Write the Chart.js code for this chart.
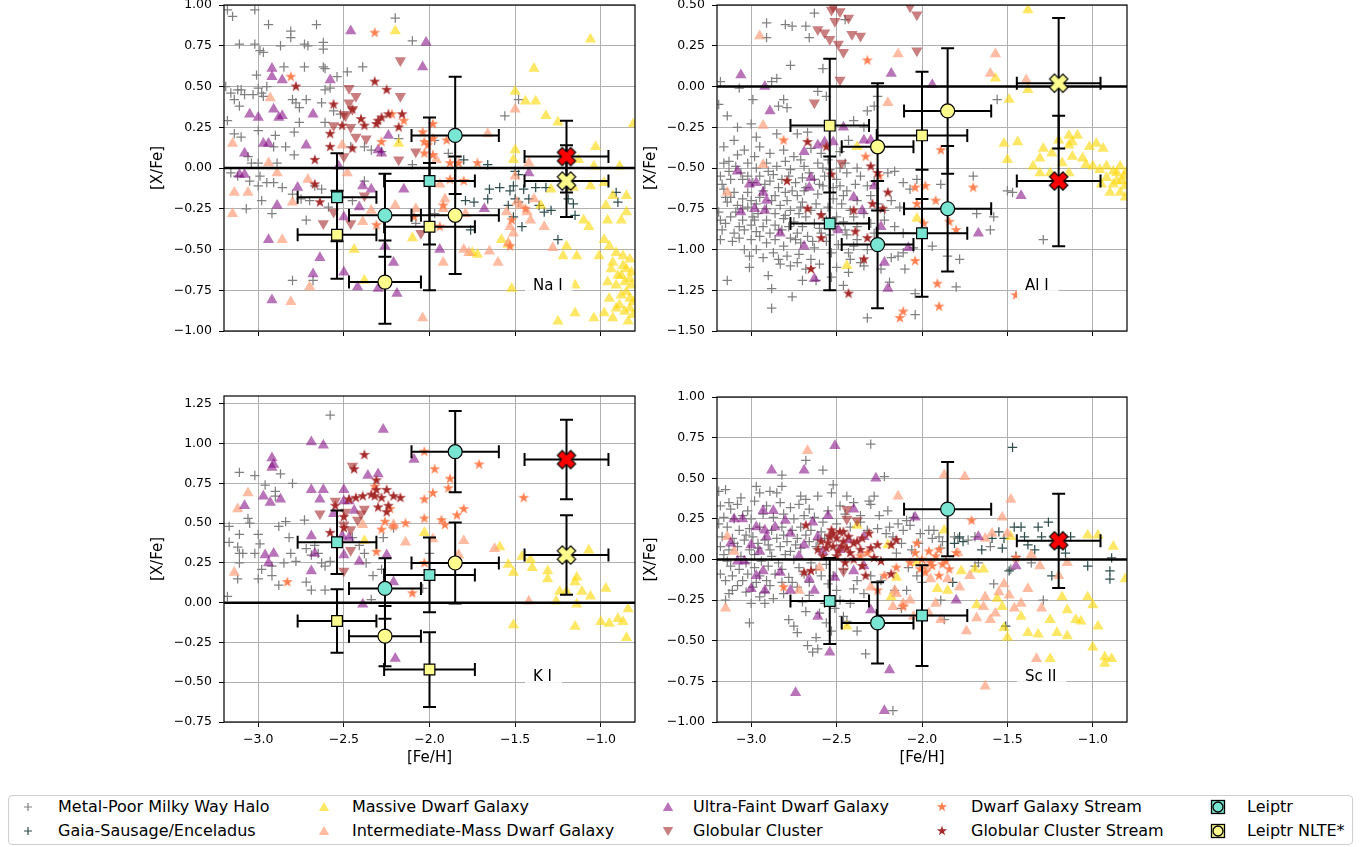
<!DOCTYPE html>
<html>
<head>
<meta charset="utf-8">
<script src="https://cdn.jsdelivr.net/npm/chart.js@4.4.1/dist/chart.umd.min.js"></script>
<style>
  html, body { margin: 0; padding: 0; background: #fff; }
  body { width: 1364px; height: 847px; position: relative; overflow: hidden; font-family: 'DejaVu Sans', sans-serif; }
  canvas.panel { position: absolute; }
  #legend { position: absolute; left: 8px; top: 795px; width: 1345px; height: 50px; border: 1px solid #cfcfcf; border-radius: 4px; box-sizing: border-box; }
  .lg-text { position: absolute; font-size: 16px; line-height: 20px; color: #000; white-space: nowrap; }
  .lg-mark { position: absolute; }
</style>
</head>
<body>
<div id="legend"></div>
<script>
// ── Axis limits and ticks ── //
const feLimits = [-3.2, -0.8];
const feTicks = [-3.0, -2.5, -2.0, -1.5, -1.0];
const naLimits = [-1.0, 1.0];
const naTicks = [-1.0, -0.75, -0.5, -0.25, 0, 0.25, 0.5, 0.75, 1.0];
const alLimits = [-1.5, 0.5];
const alTicks = [-1.5, -1.25, -1.0, -0.75, -0.5, -0.25, 0, 0.25, 0.5];
const kLimits = [-0.75, 1.30];
const kTicks = [-0.75, -0.5, -0.25, 0, 0.25, 0.5, 0.75, 1.0, 1.25];
const scLimits = [-1.0, 1.0];
const scTicks = [-1.0, -0.75, -0.5, -0.25, 0, 0.25, 0.5, 0.75, 1.0];
const solarRef = 0;

// ── Leiptr stars ── //
const leiptrFeH = [-2.54, -2.26, -2.00, -1.85];
const leiptrFeHErr = [0.23, 0.21, 0.265, 0.255];
const leiptrMarker = ['rect', 'circle', 'rect', 'circle'];
const crossFeH = -1.20;
const crossFeHErr = 0.245;

const naLte = [-0.18, -0.29, -0.08, 0.20];
const naNlte = [-0.41, -0.70, -0.36, -0.29];
const naErr = [0.27, 0.255, 0.39, 0.36];
const naCross = [0.07, -0.08];
const naCrossErr = 0.22;

const alLte = [-0.84, -0.97, -0.90, -0.75];
const alNlte = [-0.24, -0.37, -0.30, -0.15];
const alErr = [0.41, 0.39, 0.39, 0.385];
const alCross = [-0.58, 0.02];
const alCrossErr = 0.40;

const kLte = [0.38, 0.09, 0.175, 0.95];
const kNlte = [-0.115, -0.21, -0.42, 0.25];
const kErr = [0.20, 0.19, 0.235, 0.255];
const kCross = [0.90, 0.30];
const kCrossErr = 0.25;

const scLte = [-0.255, -0.39, -0.345, 0.31];
const scNlte = [];
const scErr = [0.265, 0.25, 0.31, 0.29];
const scCross = [0.115];
const scCrossErr = 0.29;

// ── Na I comparison samples ── //
const naHalo = [[-3.18,0.97],[-3.15,0.93],[-3.02,0.97],[-2.94,0.88],[-2.81,0.84],[-2.81,0.80],[-2.66,0.88],[-2.20,0.92],[-2.10,0.78],
[-3.11,0.76],[-3.02,0.76],[-2.99,0.72],[-2.97,0.71],[-2.87,0.75],[-2.73,0.76],[-2.71,0.75],[-2.62,0.77],[-2.62,0.73],
[-2.62,0.62],[-2.61,0.61],[-2.73,0.62],[-2.48,0.59],[-2.39,0.62],[-3.01,0.57],[-3.12,0.48],[-3.16,0.46],[-3.14,0.42],
[-3.10,0.48],[-3.08,0.45],[-2.98,0.46],[-3.00,0.49],[-3.03,0.45],[-3.11,0.38],[-2.97,0.44],[-2.80,0.42],[-2.78,0.40],
[-2.72,0.42],[-2.76,0.37],[-2.61,0.48],[-2.58,0.49],[-2.63,0.40],[-2.54,0.56],[-2.56,0.35],[-2.52,0.33],[-2.76,0.28],
[-2.61,0.28],[-3.18,0.29],[-3.14,0.21],[-3.10,0.19],[-3.00,0.23],[-2.90,0.20],[-2.79,0.22],[-2.84,0.13],[-2.79,0.08],
[-2.91,0.13],[-3.06,0.07],[-3.04,0.03],[-3.00,0.03],[-3.16,-0.03],[-3.12,-0.05],[-2.99,-0.05],[-2.95,-0.09],[-2.91,-0.09],
[-2.89,0.03],[-3.00,-0.11],[-2.98,-0.20],[-3.07,-0.25],[-2.92,-0.28],[-2.72,-0.32],[-2.75,-0.19],[-2.67,-0.11],[-2.63,-0.13],
[-2.38,-0.08],[-2.34,0.11],[-2.28,0.10],[-2.38,0.13],[-2.46,0.13],[-2.18,0.18],[-2.10,0.02],[-2.80,-0.69],[-2.68,-0.69],
[-2.08,-0.34],[-1.97,-0.28],[-1.48,0.42],[-1.56,0.32],[-1.89,0.09],[-1.97,0.17],[-3.19,0.50],[-2.95,0.50],[-2.85,0.62],
[-3.05,-0.08],[-2.86,-0.12],[-2.80,-0.16],[-2.70,-0.20],[-2.59,-0.24],[-2.45,-0.20]];
const naGse = [[-1.80,0.05],[-1.66,0.02],[-1.50,-0.02],[-1.48,-0.04],[-1.51,-0.11],[-1.59,-0.12],[-1.65,-0.13],[-1.53,-0.14],
[-1.45,-0.13],[-1.38,-0.12],[-1.32,-0.12],[-1.42,-0.19],[-1.36,-0.23],[-1.33,-0.27],[-1.29,-0.26],[-1.19,-0.19],[-1.16,-0.22],
[-1.15,-0.29],[-1.66,-0.19],[-1.79,-0.20],[-1.74,-0.21],[-1.50,-0.19],[-1.48,-0.21],[-1.51,-0.30],[-1.46,-0.36],[-1.76,-0.38],
[-1.25,-0.44],[-0.91,-0.15],[-0.90,-0.21],[-1.19,-0.11],[-1.54,-0.23]];
const naMassive = [[-1.06,0.79],[-1.39,0.61],[-1.50,0.47],[-1.44,0.41],[-1.38,0.41],[-1.32,0.32],[-1.25,0.28],[-1.50,0.11],
[-1.51,0.05],[-1.03,0.13],[-0.89,0.01],[-0.81,0.27],[-1.13,0.05],[-1.04,0.01],[-1.06,-0.11],[-1.16,-0.12],[-1.29,-0.13],
[-0.85,-0.17],[-0.97,-0.23],[-1.10,-0.32],[-1.07,-0.36],[-0.96,-0.32],[-0.88,-0.32],[-0.85,-0.27],[-0.98,-0.44],[-0.95,-0.48],
[-0.91,-0.52],[-0.87,-0.54],[-0.83,-0.56],[-0.93,-0.58],[-0.85,-0.62],[-0.88,-0.66],[-0.83,-0.68],[-0.91,-0.72],[-0.85,-0.76],
[-0.95,-0.80],[-0.83,-0.80],[-0.89,-0.84],[-0.83,-0.86],[-0.93,-0.92],[-0.84,-0.94],[-0.98,-0.89],[-1.20,-0.48],[-1.14,-0.54],
[-1.22,-0.54],[-1.01,-0.54],[-1.15,-0.72],[-1.15,-0.89],[-1.04,-0.92],[-1.25,-0.94],[-1.52,-0.74],[-1.58,-0.44],[-1.54,-0.47],
[-1.35,-0.23],[-1.75,-0.52],[-1.72,-0.53],[-0.98,-0.09],[-0.93,-0.17],[-2.20,0.84],[-2.18,0.15],[-2.44,-0.50],[-2.10,-0.43],
[-2.38,-0.69],[-0.87,-0.60],[-0.82,-0.64],[-0.90,-0.66],[-0.86,-0.70],[-0.82,-0.72],[-0.88,-0.78],[-0.81,-0.82],[-0.86,-0.88],
[-0.81,-0.90],[-0.91,-0.86],[-0.96,-0.70],[-0.94,-0.62]];
const naInter = [[-2.93,0.43],[-3.15,0.15],[-3.14,-0.15],[-3.06,-0.15],[-3.15,-0.28],[-2.94,0.03],[-2.89,-0.03],[-2.86,-0.44],
[-2.81,-0.82],[-2.80,-0.21],[-2.71,-0.07],[-2.70,-0.73],[-2.51,0.14],[-2.48,-0.03],[-2.39,-0.33],[-2.34,-0.26],[-2.20,-0.23],
[-2.04,-0.92],[-1.66,0.21],[-1.50,0.36],[-1.42,0.03],[-1.92,-0.58],[-1.80,-0.50],[-1.65,-0.51],[-1.60,-0.58],[-1.54,-0.46],
[-1.51,-0.40],[-1.55,-0.27],[-1.49,-0.21],[-1.47,-0.23],[-1.43,-0.27],[-1.39,-0.19],[-1.33,-0.36],[-1.41,-0.32],[-1.53,-0.36],
[-1.28,-0.49],[-1.91,-0.19],[-1.92,-0.25],[-1.79,-0.28],[-1.77,-0.52],[-1.50,-0.05],[-1.94,-0.10],[-1.96,0.05],[-2.08,-0.25]];
const naUfd = [[-2.46,0.84],[-2.02,0.77],[-2.04,0.62],[-2.92,0.61],[-2.92,0.56],[-2.86,0.54],[-2.58,0.54],[-2.91,0.36],
[-2.88,0.31],[-3.05,0.33],[-3.00,0.31],[-2.68,0.33],[-3.08,0.09],[-2.97,0.15],[-2.94,0.15],[-2.72,0.14],[-3.11,-0.04],
[-3.08,-0.04],[-2.28,0.09],[-2.24,0.20],[-2.30,0.11],[-2.53,0.01],[-2.34,-0.13],[-2.15,-0.13],[-2.39,-0.11],[-2.89,-0.23],
[-2.50,-0.30],[-2.41,-0.24],[-2.94,-0.44],[-2.64,-0.55],[-2.68,-0.65],[-2.50,-0.64],[-2.42,-0.73],[-2.30,-0.74],[-2.19,-0.77],
[-2.92,-0.81],[-2.26,-0.48],[-2.21,-0.58],[-2.77,-0.12],[-2.86,0.32],[-1.94,-0.50],[-1.68,-0.25],[-1.42,-0.03]];
const naGc = [[-2.17,0.66],[-2.17,0.44],[-2.47,0.49],[-2.43,0.44],[-2.47,0.40],[-2.45,0.36],[-2.49,0.32],[-2.56,0.26],
[-2.43,0.19],[-2.37,0.18],[-2.50,0.07],[-2.18,0.05],[-2.08,0.10],[-2.62,-0.34],[-2.56,-0.27],[-2.46,-0.34],[-2.05,-0.40],
[-2.38,-0.17],[-2.50,0.33],[-2.46,0.25]];
const naDgs = [[-2.32,0.83],[-2.81,0.56],[-2.15,0.29],[-2.28,0.16],[-2.04,0.22],[-2.03,0.16],[-2.01,0.14],[-2.03,0.09],
[-1.98,0.18],[-2.09,-0.30],[-2.31,-0.35],[-2.22,0.33],[-1.98,0.27],[-1.98,0.08],[-1.90,0.17],[-1.88,0.03],[-1.83,0.03],
[-1.72,0.03],[-1.80,-0.08],[-1.88,-0.07],[-1.92,-0.23],[-1.44,-0.25],[-1.52,-0.32],[-1.53,-0.48],[-1.94,-0.36]];
const naGcs = [[-2.78,0.50],[-2.32,0.53],[-2.25,0.48],[-2.56,0.39],[-2.45,0.36],[-2.40,0.30],[-2.51,0.26],[-2.38,0.26],
[-2.31,0.27],[-2.28,0.31],[-2.24,0.33],[-2.16,0.33],[-2.18,0.25],[-2.58,0.21],[-2.58,0.13],[-2.45,0.12],[-2.67,0.05],
[-2.67,-0.10],[-2.64,-0.21],[-2.30,0.29]];

// ── Al I comparison samples ── //
const alHalo = [[-2.63,0.45],[-2.91,0.39],[-2.80,0.38],[-2.76,0.37],[-2.68,0.37],[-2.91,0.30],[-2.66,0.30],[-2.45,0.41],
[-2.77,0.13],[-2.58,0.11],[-2.85,0.05],[-2.88,0.03],[-3.18,0.03],[-3.07,-0.01],[-2.61,-0.03],[-2.56,-0.06],[-2.81,-0.08],
[-2.84,-0.12],[-2.79,-0.13],[-2.99,-0.08],[-3.19,-0.11],[-3.14,-0.18],[-3.08,-0.25],[-3.00,-0.23],[-2.97,-0.31],[-2.85,-0.29],
[-2.73,-0.29],[-2.67,-0.28],[-2.40,-0.21],[-2.32,-0.15],[-2.28,-0.12],[-2.26,-0.06],[-2.34,-0.25],[-2.43,-0.33],[-3.10,-0.33],
[-3.16,-0.37],[-3.04,-0.39],[-2.95,-0.37],[-2.89,-0.41],[-2.81,-0.39],[-2.75,-0.43],[-2.65,-0.38],[-2.59,-0.41],[-2.48,-0.40],
[-3.16,-0.47],[-3.09,-0.49],[-3.02,-0.47],[-2.97,-0.50],[-2.91,-0.47],[-2.85,-0.49],[-2.77,-0.51],[-2.69,-0.49],[-2.61,-0.47],
[-2.54,-0.51],[-2.44,-0.53],[-2.36,-0.55],[-2.28,-0.58],[-2.20,-0.53],[-2.16,-0.52],[-2.11,-0.59],[-2.07,-0.63],[-2.03,-0.57],
[-3.18,-0.55],[-3.12,-0.57],[-3.05,-0.57],[-2.99,-0.59],[-2.89,-0.58],[-2.82,-0.57],[-2.74,-0.59],[-2.63,-0.57],[-2.58,-0.61],
[-2.48,-0.61],[-2.39,-0.60],[-2.32,-0.61],[-3.16,-0.63],[-3.10,-0.65],[-3.02,-0.65],[-2.93,-0.64],[-2.86,-0.67],[-2.80,-0.65],
[-2.73,-0.67],[-2.69,-0.64],[-2.61,-0.66],[-2.52,-0.69],[-2.46,-0.67],[-2.38,-0.70],[-2.18,-0.70],[-2.13,-0.74],[-3.14,-0.71],
[-3.08,-0.73],[-3.02,-0.74],[-2.97,-0.72],[-2.91,-0.75],[-2.83,-0.73],[-2.77,-0.76],[-2.71,-0.74],[-2.65,-0.76],[-2.59,-0.78],
[-2.42,-0.76],[-2.34,-0.78],[-3.19,-0.77],[-3.12,-0.80],[-3.05,-0.82],[-2.99,-0.80],[-2.91,-0.82],[-2.81,-0.81],[-2.75,-0.83],
[-2.68,-0.80],[-2.63,-0.84],[-2.46,-0.83],[-2.38,-0.86],[-2.22,-0.82],[-2.16,-0.86],[-3.17,-0.88],[-3.10,-0.90],[-3.04,-0.88],
[-2.97,-0.89],[-2.89,-0.90],[-2.82,-0.88],[-2.73,-0.90],[-2.67,-0.92],[-2.59,-0.90],[-2.44,-0.91],[-2.38,-0.94],[-3.18,-0.94],
[-3.11,-0.95],[-3.00,-0.94],[-2.91,-0.96],[-2.81,-0.98],[-2.71,-0.96],[-2.63,-0.99],[-3.04,-1.00],[-3.01,-1.04],[-2.97,-1.00],
[-2.87,-1.02],[-2.79,-1.04],[-2.72,-1.03],[-2.65,-1.06],[-2.53,-1.02],[-2.43,-1.02],[-2.42,-1.06],[-2.36,-1.08],[-2.83,-1.09],
[-2.77,-1.10],[-2.73,-1.08],[-2.68,-1.12],[-3.01,-1.11],[-2.90,-1.16],[-2.53,-1.17],[-3.14,-1.19],[-2.88,-1.24],[-2.76,-1.29],
[-2.88,-1.36],[-2.46,-1.22],[-2.34,-1.10],[-2.18,-1.05],[-2.14,-1.04],[-2.05,-0.99],[-2.04,-1.27],[-2.32,-1.42],[-2.04,-1.40],
[-2.11,-1.02],[-2.26,-0.97],[-2.28,-0.90],[-2.22,-0.76],[-2.11,-0.90],[-1.70,-0.55],[-1.60,-0.88],[-1.58,-0.80],[-1.68,-0.78],
[-1.78,-1.06],[-1.80,-1.23],[-1.85,-1.04],[-1.56,-0.08],[-1.29,-0.94],[-1.50,-0.64],[-1.47,-0.65],[-1.89,-0.60],[-1.94,-0.98],
[-3.13,-0.52],[-3.06,-0.53],[-2.95,-0.55],[-2.87,-0.54],[-2.78,-0.55],[-2.70,-0.56],[-2.57,-0.55],[-2.50,-0.57],[-3.15,-0.68],
[-3.05,-0.69],[-2.95,-0.68],[-2.88,-0.70],[-2.79,-0.70],[-2.70,-0.71],[-2.62,-0.72],[-2.55,-0.74],[-2.47,-0.72],[-3.09,-0.77],
[-2.96,-0.78],[-2.86,-0.78],[-2.80,-0.79],[-2.72,-0.78],[-2.56,-0.82],[-2.50,-0.80],[-3.15,-0.84],[-3.00,-0.85],[-2.93,-0.86],
[-2.86,-0.85],[-2.78,-0.86],[-2.70,-0.86],[-2.60,-0.87],[-2.52,-0.86],[-3.07,-0.93],[-2.95,-0.92],[-2.86,-0.94],[-2.77,-0.93],
[-2.56,-0.95],[-2.49,-0.97],[-2.40,-0.98],[-2.93,-1.05],[-2.84,-1.06],[-2.60,-1.09],[-2.50,-1.11],[-2.43,-1.14],[-2.62,-1.19],
[-2.70,-1.19],[-3.08,-0.42],[-2.98,-0.43],[-2.71,-0.45],[-2.55,-0.45],[-2.45,-0.47],[-2.38,-0.50],[-2.30,-0.67],[-2.26,-0.72],
[-2.30,-0.84],[-2.32,-1.00],[-2.24,-1.12],[-2.19,-1.20],[-2.10,-1.12],
[-3.17,-0.60],[-3.12,-0.68],[-3.05,-0.75],[-3.00,-0.70],[-2.92,-0.60],[-2.84,-0.62],[-2.76,-0.64],[-2.68,-0.62],[-2.60,-0.60],
[-2.52,-0.62],[-2.44,-0.64],[-3.13,-0.46],[-3.02,-0.55],[-2.90,-0.52],[-2.80,-0.46],[-2.66,-0.53],[-2.58,-0.50],[-2.48,-0.50],
[-3.18,-0.82],[-3.07,-0.86],[-2.98,-0.82],[-2.84,-0.88],[-2.74,-0.94],[-2.64,-0.95],[-2.54,-0.91],[-2.45,-0.88],[-2.40,-0.80]];
const alMassive = [[-1.38,0.47],[-1.57,0.05],[-1.38,-0.02],[-1.49,-0.08],[-1.52,-0.35],[-1.44,-0.34],[-1.50,-0.45],[-1.29,-0.38],
[-1.31,-0.44],[-1.24,-0.41],[-1.20,-0.33],[-1.14,-0.30],[-1.12,-0.34],[-1.09,-0.30],[-1.14,-0.36],[-1.12,-0.43],[-1.06,-0.44],
[-1.02,-0.37],[-0.98,-0.35],[-0.94,-0.38],[-1.04,-0.48],[-1.00,-0.49],[-0.96,-0.51],[-0.92,-0.49],[-0.88,-0.52],[-0.84,-0.49],
[-0.82,-0.55],[-0.86,-0.58],[-0.90,-0.65],[-0.84,-0.65],[-0.81,-0.61],[-1.14,-0.53],[-1.18,-0.47],[-1.25,-0.53],[-1.31,-0.53],
[-1.35,-0.49],[-0.92,-0.56],[-0.95,-0.60],[-0.81,-0.68],[-2.44,-1.10],[-2.03,-0.81],[-2.38,-0.37],[-0.86,-0.53],[-0.83,-0.58],
[-0.88,-0.60],[-0.80,-0.52]];
const alInter = [[-2.95,0.31],[-2.93,-0.24],[-2.93,-0.48],[-3.14,-0.65],[-2.14,0.20],[-2.20,-0.10],[-1.57,0.20],[-1.60,0.08],[-1.39,0.04]];
const alUfd = [[-3.06,0.07],[-2.92,0.00],[-2.89,-0.15],[-2.46,-0.25],[-3.08,-0.52],[-3.01,-0.60],[-2.97,-0.59],[-2.93,-0.65],
[-2.91,-0.70],[-2.98,-0.75],[-3.06,-0.77],[-2.92,-0.76],[-2.69,-0.40],[-2.65,-0.56],[-2.66,-0.62],[-2.61,-0.36],[-2.57,-0.34],
[-2.52,-0.34],[-2.83,-0.90],[-2.69,-0.98],[-2.63,-1.18],[-2.40,-0.68],[-2.35,-0.76],[-2.49,-0.88],[-2.34,-0.33],[-2.30,-0.33],
[-2.28,-0.61],[-2.24,-0.86],[-2.22,-1.08],[-2.20,-1.24],[-2.18,0.08],[-2.08,-0.99],[-1.94,0.01],[-1.67,-0.90],[-1.42,-0.67]];
const alGc = [[-2.53,0.47],[-2.48,0.46],[-2.51,0.40],[-2.43,0.42],[-2.61,0.35],[-2.57,0.33],[-2.54,0.29],[-2.49,0.26],
[-2.46,0.21],[-2.41,0.32],[-2.36,0.31],[-2.03,0.44],[-2.03,0.22],[-2.48,0.04],[-2.63,-0.10],[-2.47,-0.47],[-2.07,0.49],[-2.52,0.49]];
const alDgs = [[-2.32,0.16],[-2.81,-0.33],[-1.89,-0.39],[-2.33,-0.43],[-2.04,-0.62],[-1.98,-0.61],[-2.03,-0.72],[-1.92,-0.70],
[-1.99,-0.84],[-1.84,-0.83],[-1.80,-0.88],[-1.70,-0.62],[-2.04,-1.07],[-1.91,-1.21],[-1.90,-1.35],[-2.11,-1.38],[-2.13,-1.42],
[-1.45,-1.28],[-2.25,-0.55]];
const alGcs = [[-2.56,-0.37],[-2.67,-0.34],[-2.79,-0.58],[-2.53,-0.54],[-2.67,-0.75],[-2.59,-0.79],[-2.30,-0.49],[-2.26,-0.53],
[-2.40,-0.76],[-2.20,-0.65],[-2.23,-0.75],[-2.29,-0.72],[-2.39,-0.89],[-2.32,-0.93],[-2.34,-1.06],[-2.65,-1.12],[-2.43,-1.27],[-2.59,-0.93]];

// ── K I comparison samples ── //
const kHalo = [[-2.58,1.18],[-3.11,0.82],[-3.02,0.80],[-2.96,0.74],[-2.87,0.81],[-2.80,0.75],[-2.90,0.70],[-2.90,0.67],
[-3.06,0.53],[-3.05,0.50],[-3.17,0.48],[-3.11,0.43],[-3.17,0.38],[-3.12,0.35],[-3.11,0.31],[-3.09,0.31],[-3.11,0.25],
[-3.12,0.15],[-3.18,0.04],[-3.00,0.43],[-2.99,0.37],[-3.02,0.31],[-2.98,0.21],[-3.00,0.15],[-2.92,0.23],[-2.92,0.17],
[-2.88,0.11],[-2.88,0.48],[-2.84,0.51],[-2.82,0.41],[-2.81,0.31],[-2.85,0.25],[-2.78,0.26],[-2.73,0.52],[-2.72,0.34],
[-2.67,0.36],[-2.65,0.31],[-2.69,0.30],[-2.72,0.13],[-2.69,0.08],[-2.61,0.08],[-2.63,0.25],[-2.61,0.23],[-2.58,0.26],
[-2.45,0.41],[-2.41,0.36],[-2.38,0.31],[-2.37,0.25],[-2.33,0.17],[-2.28,0.21],[-2.27,0.41],[-2.34,0.02],[-2.21,0.47],
[-2.04,0.09],[-2.00,0.31]];
const kMassive = [[-2.03,0.44],[-2.38,0.39],[-1.59,0.35],[-1.54,0.24],[-1.51,0.19],[-1.46,0.29],[-1.40,0.22],[-1.41,0.27],
[-1.31,0.20],[-1.31,0.15],[-1.26,0.01],[-1.24,0.07],[-1.20,0.07],[-1.14,0.16],[-1.15,0.13],[-1.14,-0.01],[-1.11,0.07],
[-1.06,0.04],[-1.07,0.33],[-0.97,0.09],[-1.00,-0.12],[-0.95,-0.13],[-0.90,-0.10],[-0.87,-0.12],[-0.84,-0.04],[-0.85,-0.22],
[-1.15,-0.15],[-1.51,-0.14]];
const kInter = [[-3.06,0.69],[-3.12,0.59],[-3.14,0.19],[-2.39,0.49],[-2.21,0.49],[-2.14,0.38],[-1.98,0.40],[-1.80,0.39],
[-1.83,0.30],[-1.62,0.34],[-1.42,0.01]];
const kUfd = [[-2.27,1.09],[-2.69,1.01],[-2.62,0.99],[-2.92,0.91],[-2.91,0.87],[-2.92,0.85],[-2.36,0.80],[-2.30,0.81],
[-2.09,0.90],[-2.69,0.71],[-2.62,0.71],[-2.50,0.71],[-2.64,0.65],[-2.97,0.67],[-2.93,0.63],[-2.87,0.65],[-3.08,0.61],
[-2.50,0.64],[-2.47,0.64],[-2.44,0.58],[-2.56,0.56],[-2.51,0.42],[-2.47,0.41],[-2.96,0.30],[-2.91,0.31],[-2.94,0.25],
[-2.69,0.42],[-2.67,0.31],[-2.69,0.20],[-2.50,0.30],[-2.41,0.26],[-2.25,0.30],[-2.21,0.13],[-2.39,-0.01],[-2.20,-0.35]];
const kGc = [[-2.45,0.86],[-2.64,0.56],[-2.55,0.64],[-2.49,0.57],[-2.38,0.59],[-2.42,0.52],[-2.50,0.49],[-2.46,0.33],
[-2.50,0.20],[-2.46,0.46],[-2.40,0.56]];
const kDgs = [[-2.03,0.95],[-1.97,0.84],[-1.71,0.87],[-1.88,0.78],[-1.89,0.72],[-1.98,0.69],[-2.03,0.65],[-1.80,0.59],
[-1.84,0.55],[-2.03,0.53],[-1.93,0.52],[-1.91,0.49],[-2.14,0.50],[-2.21,0.48],[-2.26,0.51],[-2.23,0.59],[-2.28,0.46],
[-2.32,0.73],[-2.31,0.32],[-2.03,0.25],[-2.10,0.06],[-2.83,0.13],[-1.45,0.66]];
const kGcs = [[-2.38,0.93],[-2.44,0.84],[-2.31,0.77],[-2.25,0.71],[-2.31,0.71],[-2.32,0.67],[-2.21,0.67],[-2.17,0.66],
[-2.39,0.67],[-2.43,0.66],[-2.47,0.65],[-2.30,0.60],[-2.25,0.57],[-2.24,0.61],[-2.55,0.61],[-2.50,0.54],[-2.50,0.47],
[-2.58,0.44],[-2.34,0.68],[-2.28,0.66]];

// ── Sc II comparison samples ── //
const scHalo = [[-2.30,0.71],[-2.68,0.61],[-2.58,0.55],[-2.82,0.52],[-2.82,0.45],[-3.15,0.43],[-3.19,0.42],[-2.97,0.45],
[-2.95,0.41],[-2.89,0.42],[-2.85,0.41],[-2.71,0.39],[-2.68,0.37],[-2.61,0.39],[-2.52,0.46],[-2.53,0.41],[-2.44,0.39],
[-2.28,0.39],[-2.31,0.36],[-2.22,0.51],[-2.30,0.34],[-2.19,0.20],[-2.14,0.22],[-2.05,0.26],[-2.09,0.24],
[-3.18,0.33],[-3.12,0.31],[-3.08,0.34],[-3.02,0.30],[-3.16,0.26],[-3.10,0.25],[-3.05,0.27],[-3.00,0.25],[-2.93,0.28],
[-2.87,0.26],[-2.81,0.28],[-2.75,0.25],[-2.69,0.27],[-2.63,0.26],[-2.58,0.23],[-3.14,0.20],[-3.07,0.18],[-3.01,0.19],
[-2.95,0.20],[-2.88,0.18],[-2.82,0.20],[-2.76,0.18],[-2.71,0.20],[-2.65,0.18],[-2.59,0.17],[-3.17,0.14],[-3.11,0.13],
[-3.04,0.12],[-2.99,0.14],[-2.92,0.12],[-2.85,0.13],[-2.79,0.11],[-2.73,0.13],[-2.66,0.11],[-2.61,0.12],[-3.18,0.08],
[-3.13,0.06],[-3.08,0.08],[-3.01,0.06],[-2.96,0.07],[-2.89,0.06],[-2.83,0.08],[-2.77,0.05],[-2.71,0.07],[-3.16,0.03],
[-3.06,0.02],[-2.98,0.03],[-2.88,0.02],[-2.80,0.03],[-3.14,-0.01],[-3.03,-0.02],[-2.94,-0.01],[-2.84,-0.02],[-2.75,0.00],
[-2.65,-0.02],[-3.18,-0.09],[-3.11,-0.10],[-3.02,-0.09],[-2.95,-0.10],[-2.86,-0.09],[-2.78,-0.11],[-2.69,-0.09],[-2.59,-0.10],
[-3.08,-0.16],[-2.99,-0.17],[-2.89,-0.16],[-2.73,-0.17],[-3.11,-0.19],[-3.03,-0.20],[-2.95,-0.23],[-2.87,-0.24],[-3.00,-0.27],
[-3.15,-0.25],[-3.01,-0.39],[-2.92,-0.27],[-2.78,-0.37],[-2.75,-0.41],[-2.73,-0.45],[-2.68,-0.32],[-2.62,-0.48],[-2.67,-0.53],
[-2.64,-0.57],[-2.61,-0.55],[-2.52,-0.10],[-2.46,-0.06],[-2.50,-0.19],[-2.42,-0.27],[-2.34,-0.21],[-2.38,-0.13],[-2.33,-0.58],
[-2.17,-0.93],[-2.50,0.22],[-2.42,0.20],[-2.36,0.23],[-2.32,0.18],[-2.26,0.19],[-2.21,0.16],[-2.17,0.14],[-2.11,0.18],
[-2.07,0.21],[-2.01,0.16],[-2.30,-0.10],[-2.24,-0.13],[-2.16,-0.19],[-2.09,-0.19],[-2.03,-0.10],[-2.51,-0.30],[-2.46,-0.35],
[-2.53,-0.44],[-1.94,0.13],[-1.90,0.14],[-1.88,0.11],[-1.79,0.13],[-1.73,0.12],[-1.89,0.07],[-1.67,-0.02],[-1.69,-0.04],
[-1.58,-0.15],[-1.48,-0.06],[-1.29,-0.25],[-1.89,-0.25],[-1.87,-0.37],[-1.93,0.18],[-1.96,0.18],[-1.81,0.14],[-1.69,0.14],
[-1.60,0.08],[-1.36,-0.02],
[-3.19,0.22],[-3.13,0.35],[-3.06,0.38],[-2.98,0.36],[-2.91,0.33],[-2.83,0.35],[-2.77,0.32],[-2.72,0.34],[-2.66,0.31],
[-2.55,0.30],[-2.48,0.33],[-3.10,0.10],[-3.03,0.15],[-2.96,0.10],[-2.90,0.09],[-2.81,0.15],[-2.74,0.09],[-2.68,0.15],
[-2.62,0.08],[-2.57,0.13],[-3.12,-0.04],[-3.07,-0.06],[-2.98,-0.05],[-2.90,-0.04],[-2.82,-0.06],[-2.72,-0.05],[-2.62,-0.06],
[-2.56,-0.03],[-3.15,-0.13],[-3.05,-0.13],[-2.97,-0.14],[-2.91,-0.13],[-2.82,-0.14],[-2.76,-0.14],[-2.66,-0.14],[-2.55,-0.15],
[-3.13,-0.21],[-2.92,-0.20],[-2.81,-0.21],[-2.66,-0.22],[-2.57,-0.27],[-2.48,-0.25],[-2.40,-0.18],[-2.44,-0.38],[-2.38,-0.44],
[-2.70,-0.26],[-2.60,-0.33],[-2.56,-0.39],[-2.36,0.27],[-2.40,0.35],[-2.45,0.28],[-2.25,0.27],[-2.20,0.30],[-2.12,0.10],
[-2.06,0.06],[-2.02,0.10],[-2.15,0.04],[-2.08,-0.05],[-2.00,-0.14],[-2.12,-0.30]];
const scGse = [[-1.47,0.69],[-1.46,0.20],[-1.40,0.14],[-1.32,0.20],[-1.26,0.23],[-1.30,0.14],[-1.38,0.09],[-1.34,0.06],
[-1.52,0.13],[-1.53,0.07],[-1.59,0.13],[-1.65,0.06],[-1.76,0.11],[-1.78,0.14],[-1.81,0.10],[-1.20,0.07],[-1.16,0.04],
[-1.24,-0.10],[-1.49,-0.07],[-1.45,0.02],[-1.03,-0.04],[-0.90,-0.07],[-0.89,0.01],[-0.90,-0.12],[-1.51,-0.41],[-1.82,-0.14],
[-1.55,0.17],[-1.42,0.20],[-1.13,0.14]];
const scMassive = [[-2.38,0.21],[-2.44,-0.41],[-2.20,0.09],[-2.15,-0.11],[-2.18,-0.23],[-2.03,-0.02],[-1.87,0.18],[-1.91,-0.18],
[-1.85,-0.19],[-1.77,-0.07],[-1.69,-0.06],[-1.64,-0.06],[-1.68,-0.28],[-1.56,-0.24],[-1.53,-0.29],[-1.52,-0.42],[-1.50,-0.48],
[-1.42,-0.35],[-1.38,-0.45],[-1.32,-0.46],[-1.25,-0.37],[-1.21,-0.45],[-1.18,-0.23],[-1.15,-0.31],[-1.10,-0.37],[-1.07,-0.38],
[-1.03,-0.23],[-1.00,-0.28],[-0.97,-0.41],[-1.00,-0.54],[-0.93,-0.60],[-0.89,-0.61],[-0.93,-0.64],[-1.25,-0.61],[-1.03,0.15],
[-0.97,0.15],[-0.88,0.08],[-0.81,-0.12],[-1.15,-0.47],[-1.48,0.14]];
const scInter = [[-2.67,0.67],[-3.15,-0.30],[-2.14,0.39],[-3.14,0.14],[-2.16,-0.19],[-2.15,-0.21],[-2.07,-0.25],[-2.17,-0.29],
[-2.11,-0.27],[-1.87,0.52],[-1.75,0.51],[-1.48,0.37],[-1.53,0.26],[-1.79,0.04],[-1.95,-0.12],[-1.92,-0.27],[-1.89,-0.37],
[-1.74,-0.44],[-1.63,-0.78],[-1.78,-0.17],[-1.63,-0.23],[-1.64,-0.29],[-1.60,-0.37],[-1.55,-0.20],[-1.49,-0.22],[-1.42,-0.27],
[-1.33,-0.61],[-1.63,0.13],[-1.59,0.16],[-1.50,0.16],[-1.31,-0.04],[-1.36,0.03],[-2.72,-0.19],[-3.10,0.05],[-2.60,-0.05],
[-1.98,-0.05],[-1.85,-0.12],[-1.72,-0.10],[-1.68,-0.36],[-1.57,-0.33],[-1.52,-0.15],[-1.46,-0.30],[-1.38,-0.18],[-1.30,-0.30],
[-1.20,-0.10],[-1.15,-0.02],[-2.30,-0.17],[-2.05,-0.35],[-1.96,-0.33]];
const scUfd = [[-2.51,0.70],[-2.88,0.55],[-2.69,0.55],[-2.27,0.50],[-2.93,0.30],[-2.87,0.30],[-3.05,0.25],[-3.10,0.25],
[-2.97,0.20],[-2.92,0.18],[-2.91,0.14],[-2.77,0.16],[-2.64,0.23],[-2.61,0.14],[-2.69,0.09],[-2.40,0.31],[-2.34,0.14],
[-3.08,-0.01],[-3.04,-0.01],[-2.93,-0.07],[-2.83,-0.08],[-3.00,-0.18],[-2.92,-0.19],[-2.77,-0.19],[-2.63,-0.19],[-2.51,-0.11],
[-2.30,-0.31],[-2.61,-0.35],[-2.54,-0.57],[-2.19,-0.68],[-2.74,-0.82],[-2.22,-0.93],[-2.04,0.26],[-2.34,-0.04],[-2.40,-0.07],
[-1.67,0.14],[-1.45,-0.04],[-1.80,-0.25],[-3.00,0.09],[-2.95,0.05],[-2.86,0.20],[-2.80,0.24],[-2.72,0.02],[-2.58,0.05],
[-2.55,0.27],[-2.48,0.06],[-2.43,0.12],[-3.12,0.10],[-2.97,-0.10],[-2.66,-0.12]];
const scGc = [[-2.44,0.31],[-2.38,0.24],[-2.44,0.25],[-2.46,-0.07],[-2.54,0.14]];
const scDgs = [[-2.81,-0.17],[-2.36,0.02],[-2.32,0.04],[-2.22,-0.10],[-2.26,-0.19],[-2.03,0.10],[-2.04,0.04],[-2.01,-0.06],
[-2.11,-0.29],[-1.71,0.24],[-1.96,0.05],[-1.92,0.02],[-1.88,-0.03],[-1.84,-0.06],[-1.80,0.04],[-1.94,-0.04],[-1.45,0.01],
[-1.98,-0.08],[-1.90,-0.10],[-2.00,0.00],[-1.95,-0.02],[-1.90,0.06],[-1.86,-0.01],[-2.07,-0.02],[-2.15,-0.05]];
const scGcs = [[-2.68,0.21],[-2.54,0.14],[-2.50,0.13],[-2.46,0.11],[-2.47,0.08],[-2.52,0.08],[-2.43,0.14],[-2.40,0.10],
[-2.56,0.07],[-2.61,0.06],[-2.58,0.02],[-2.50,0.02],[-2.42,0.04],[-2.36,0.06],[-2.31,0.16],[-2.26,0.09],[-2.40,0.00],
[-2.28,0.01],[-2.24,-0.01],[-2.33,-0.10],[-2.65,-0.07],[-2.69,-0.08],[-2.18,-0.09],[-2.15,0.12],[-2.18,0.09],[-2.53,0.18],
[-2.48,0.17],[-2.59,0.11],[-2.55,0.10],[-2.49,0.05],[-2.44,0.07],[-2.38,0.11],[-2.52,0.16],[-2.46,0.17],[-2.35,0.13],
[-2.30,0.07],[-2.45,-0.02],[-2.35,-0.04]];

// ── Styling ── //
const FONT = "'DejaVu Sans', sans-serif";
const LTE_FILL = '#78e6d2';
const NLTE_FILL = '#fdfc8c';

const CATS = [
  { key: 'halo', label: 'Metal-Poor Milky Way Halo', kind: 'plus', color: '#808080' },
  { key: 'gse', label: 'Gaia-Sausage/Enceladus', kind: 'plus', color: '#2f4f4f' },
  { key: 'massive', label: 'Massive Dwarf Galaxy', kind: 'tri', color: 'rgba(255,215,0,0.6)' },
  { key: 'inter', label: 'Intermediate-Mass Dwarf Galaxy', kind: 'tri', color: 'rgba(255,160,122,0.7)' },
  { key: 'ufd', label: 'Ultra-Faint Dwarf Galaxy', kind: 'tri', color: 'rgba(128,0,128,0.55)' },
  { key: 'gc', label: 'Globular Cluster', kind: 'tridown', color: 'rgba(165,42,42,0.6)' },
  { key: 'dgs', label: 'Dwarf Galaxy Stream', kind: 'star', color: '#ff7f50' },
  { key: 'gcs', label: 'Globular Cluster Stream', kind: 'star', color: '#a52a2a' },
];

// ── Marker shapes ── //
function starPath(ctx, cx, cy, R) {
  const r = R * 0.382;
  ctx.beginPath();
  for (let i = 0; i < 10; i++) {
    const rad = i % 2 ? r : R;
    const a = -Math.PI / 2 + i * Math.PI / 5;
    ctx.lineTo(cx + rad * Math.cos(a), cy + rad * Math.sin(a));
  }
  ctx.closePath();
}
function triPath(ctx, cx, cy, r, down) {
  const s = down ? -1 : 1;
  ctx.beginPath();
  for (let i = 0; i < 3; i++) {
    const a = -Math.PI / 2 + i * 2 * Math.PI / 3;
    ctx.lineTo(cx + r * Math.cos(a), cy + s * r * Math.sin(a));
  }
  ctx.closePath();
}
function xPath(ctx, cx, cy, h, w) {
  const pts = [[w,-h],[w,-w],[h,-w],[h,w],[w,w],[w,h],[-w,h],[-w,w],[-h,w],[-h,-w],[-w,-w],[-w,-h]];
  const c = Math.SQRT1_2;
  ctx.beginPath();
  pts.forEach(([px, py]) => ctx.lineTo(cx + (px - py) * c, cy + (px + py) * c));
  ctx.closePath();
}
function makeStarImg(color, R) {
  const c = document.createElement('canvas');
  const s = Math.ceil(2 * R + 2);
  c.width = c.height = s;
  const g = c.getContext('2d');
  starPath(g, s / 2, s / 2, R);
  g.fillStyle = color;
  g.fill();
  return c;
}
function makeXImg(fill) {
  const c = document.createElement('canvas');
  c.width = c.height = 24;
  const g = c.getContext('2d');
  xPath(g, 12, 12, 9.4, 3.5);
  g.fillStyle = fill;
  g.fill();
  g.lineWidth = 1.2;
  g.strokeStyle = '#000';
  g.stroke();
  return c;
}

const fmt = (v, d) => (v < 0 ? '\u2212' : '') + Math.abs(v).toFixed(d);
const toXY = p => ({ x: p[0], y: p[1] });

// ── Per-panel decorations: error bars, label box, frame ── //
const panelDeco = {
  id: 'panelDeco',
  afterDatasetDraw(chart, args) {
    const ds = chart.data.datasets[args.index];
    if (!ds.isZero) return;
    const o = chart.options.plugins.panelDeco;
    const xs = chart.scales.x, ys = chart.scales.y, ctx = chart.ctx;
    const cap = 6.5;
    ctx.save();
    ctx.strokeStyle = '#000';
    ctx.lineWidth = 2;
    o.bars.forEach(b => {
      const px = xs.getPixelForValue(b.x), py = ys.getPixelForValue(b.y);
      const x0 = xs.getPixelForValue(b.x - b.xe), x1 = xs.getPixelForValue(b.x + b.xe);
      const y0 = ys.getPixelForValue(b.y - b.ye), y1 = ys.getPixelForValue(b.y + b.ye);
      ctx.beginPath();
      ctx.moveTo(x0, py); ctx.lineTo(x1, py);
      ctx.moveTo(px, y0); ctx.lineTo(px, y1);
      ctx.moveTo(x0, py - cap); ctx.lineTo(x0, py + cap);
      ctx.moveTo(x1, py - cap); ctx.lineTo(x1, py + cap);
      ctx.moveTo(px - cap, y0); ctx.lineTo(px + cap, y0);
      ctx.moveTo(px - cap, y1); ctx.lineTo(px + cap, y1);
      ctx.stroke();
    });
    ctx.restore();
  },
  afterDatasetsDraw(chart) {
    const o = chart.options.plugins.panelDeco;
    const a = chart.chartArea, ctx = chart.ctx;
    ctx.save();
    ctx.font = '15px ' + FONT;
    const tx = a.right - 102, ty = a.bottom - 46;
    const w = ctx.measureText(o.label).width;
    ctx.fillStyle = 'rgba(255,255,255,0.85)';
    ctx.fillRect(tx - 8, ty - 14, w + 18, 28);
    ctx.fillStyle = '#000';
    ctx.textBaseline = 'middle';
    ctx.fillText(o.label, tx, ty + 1);
    ctx.strokeStyle = '#000';
    ctx.lineWidth = 1.2;
    ctx.strokeRect(a.left, a.top, a.right - a.left, a.bottom - a.top);
    ctx.restore();
  }
};

// ── Panels ── //
const PANELS = [
  { id: 'cNa', left: 134, top: 0, width: 506, height: 345, padTop: 5, xh: 14, showX: false, label: 'Na I',
    yLim: naLimits, yTicks: naTicks, lte: naLte, nlte: naNlte, err: naErr, cross: naCross, crossErr: naCrossErr,
    cats: { halo: naHalo, gse: naGse, massive: naMassive, inter: naInter, ufd: naUfd, gc: naGc, dgs: naDgs, gcs: naGcs } },
  { id: 'cAl', left: 627, top: 0, width: 505, height: 345, padTop: 5, xh: 14, showX: false, label: 'Al I',
    yLim: alLimits, yTicks: alTicks, lte: alLte, nlte: alNlte, err: alErr, cross: alCross, crossErr: alCrossErr,
    cats: { halo: alHalo, massive: alMassive, inter: alInter, ufd: alUfd, gc: alGc, dgs: alDgs, gcs: alGcs } },
  { id: 'cK', left: 134, top: 380, width: 506, height: 390, padTop: 16, xh: 48, showX: true, label: 'K I',
    yLim: kLimits, yTicks: kTicks, lte: kLte, nlte: kNlte, err: kErr, cross: kCross, crossErr: kCrossErr,
    cats: { halo: kHalo, massive: kMassive, inter: kInter, ufd: kUfd, gc: kGc, dgs: kDgs, gcs: kGcs } },
  { id: 'cSc', left: 627, top: 380, width: 505, height: 390, padTop: 17, xh: 48, showX: true, label: 'Sc II',
    yLim: scLimits, yTicks: scTicks, lte: scLte, nlte: scNlte, err: scErr, cross: scCross, crossErr: scCrossErr,
    cats: { halo: scHalo, gse: scGse, massive: scMassive, inter: scInter, ufd: scUfd, gc: scGc, dgs: scDgs, gcs: scGcs } },
];

const starImgs = {};
CATS.forEach(c => { if (c.kind === 'star') starImgs[c.key] = makeStarImg(c.color, 5.8); });
const xImgLte = makeXImg('#ff0000');
const xImgNlte = makeXImg(NLTE_FILL);

function catDataset(c, pts, i) {
  const ds = { label: c.label, data: pts.map(toXY), order: 100 - i, clip: 0 };
  if (c.kind === 'plus') {
    Object.assign(ds, { pointStyle: 'cross', pointRadius: 4.7, borderColor: c.color, borderWidth: 1.25, backgroundColor: c.color });
  } else if (c.kind === 'tri' || c.kind === 'tridown') {
    Object.assign(ds, { pointStyle: 'triangle', pointRadius: 6.5, pointRotation: c.kind === 'tridown' ? 180 : 0,
      backgroundColor: c.color, borderWidth: 0, borderColor: 'rgba(0,0,0,0)' });
  } else {
    Object.assign(ds, { pointStyle: starImgs[c.key], pointRadius: 5 });
  }
  return ds;
}

function leiptrDataset(vals, fill, order) {
  return {
    label: 'Leiptr', data: vals.map((v, i) => ({ x: leiptrFeH[i], y: v })), order, clip: 0,
    pointStyle: leiptrMarker.slice(0, vals.length), pointRadius: leiptrMarker.map(m => m === 'rect' ? 7.6 : 7),
    backgroundColor: fill, borderColor: '#000', borderWidth: 1.2
  };
}

PANELS.forEach(p => {
  const cv = document.createElement('canvas');
  cv.className = 'panel';
  cv.id = p.id;
  cv.width = p.width; cv.height = p.height;
  cv.style.left = p.left + 'px'; cv.style.top = p.top + 'px';
  cv.style.width = p.width + 'px'; cv.style.height = p.height + 'px';
  document.body.appendChild(cv);

  const datasets = [];
  CATS.forEach((c, i) => { if (p.cats[c.key]) datasets.push(catDataset(c, p.cats[c.key], i)); });
  datasets.push({ type: 'line', label: 'solar', isZero: true, order: 10, clip: 0,
    data: feLimits.map(x => ({ x, y: solarRef })), borderColor: '#000', borderWidth: 2.6, pointRadius: 0, fill: false });
  datasets.push(leiptrDataset(p.lte, LTE_FILL, 4));
  if (p.nlte.length) datasets.push(leiptrDataset(p.nlte, NLTE_FILL, 3));
  datasets.push({ label: 'cross', order: 1, clip: 0, pointRadius: 12,
    data: p.cross.map(v => ({ x: crossFeH, y: v })), pointStyle: [xImgLte, xImgNlte].slice(0, p.cross.length) });

  const bars = [];
  p.lte.forEach((v, i) => bars.push({ x: leiptrFeH[i], y: v, xe: leiptrFeHErr[i], ye: p.err[i] }));
  p.nlte.forEach((v, i) => bars.push({ x: leiptrFeH[i], y: v, xe: leiptrFeHErr[i], ye: p.err[i] }));
  p.cross.forEach(v => bars.push({ x: crossFeH, y: v, xe: crossFeHErr, ye: p.crossErr }));

  new Chart(cv, {
    type: 'scatter',
    data: { datasets },
    options: {
      responsive: false,
      animation: false,
      events: [],
      layout: { autoPadding: false, padding: { left: 0, right: 5, top: p.padTop, bottom: 0 } },
      plugins: { legend: { display: false }, tooltip: { enabled: false }, panelDeco: { bars, label: p.label } },
      scales: {
        x: {
          type: 'linear', min: feLimits[0], max: feLimits[1],
          afterBuildTicks: s => { s.ticks = feTicks.map(v => ({ value: v })); },
          afterFit: s => { s.height = p.xh; s.paddingLeft = 0; s.paddingRight = 0; },
          grid: { color: '#b0b0b0', lineWidth: 1, tickColor: '#000', tickWidth: 1, tickLength: 5 },
          border: { display: false },
          ticks: { display: p.showX, color: '#000', padding: 5, maxRotation: 0, autoSkip: false,
            font: { family: FONT, size: 12.5 }, callback: v => fmt(v, 1) },
          title: { display: p.showX, text: '[Fe/H]', color: '#000', font: { family: FONT, size: 15 }, padding: { top: 0, bottom: 3 } }
        },
        y: {
          type: 'linear', min: p.yLim[0], max: p.yLim[1],
          afterBuildTicks: s => { s.ticks = p.yTicks.map(v => ({ value: v })); },
          afterFit: s => { s.width = 90; s.paddingTop = 0; s.paddingBottom = 0; },
          grid: { color: '#b0b0b0', lineWidth: 1, tickColor: '#000', tickWidth: 1, tickLength: 5 },
          border: { display: false },
          ticks: { color: '#000', padding: 7, autoSkip: false, font: { family: FONT, size: 12.5 }, callback: v => fmt(v, 2) },
          title: { display: true, text: '[X/Fe]', color: '#000', font: { family: FONT, size: 15 }, padding: { top: 15, bottom: 0 } }
        }
      }
    },
    plugins: [panelDeco]
  });
});

// ── Legend ── //
const legendCols = [[0, 1], [2, 3], [4, 5], [6, 7], ['lte', 'nlte']];
const legendMarkX = [28, 324, 668, 942, 1218];
const legendTextX = [58, 352, 693, 971, 1247];
const legendRowY = [807, 831];
const leiptrLegend = { lte: { label: 'Leiptr', fill: LTE_FILL }, nlte: { label: 'Leiptr NLTE*', fill: NLTE_FILL } };

const legendEl = document.getElementById('legend');
legendCols.forEach((col, ci) => {
  col.forEach((key, ri) => {
    const mk = document.createElement('canvas');
    mk.width = mk.height = 20;
    mk.className = 'lg-mark';
    mk.style.left = (legendMarkX[ci] - 10 - 9) + 'px';
    mk.style.top = (legendRowY[ri] - 10 - 796) + 'px';
    const g = mk.getContext('2d');
    let label;
    if (typeof key === 'number') {
      const c = CATS[key];
      label = c.label;
      if (c.kind === 'plus') {
        g.strokeStyle = c.color; g.lineWidth = 1.2;
        g.beginPath(); g.moveTo(10, 6); g.lineTo(10, 14); g.moveTo(6, 10); g.lineTo(14, 10); g.stroke();
      } else if (c.kind === 'star') {
        starPath(g, 10, 10, 5.4); g.fillStyle = c.color; g.fill();
      } else {
        triPath(g, 10, c.kind === 'tridown' ? 9 : 11, 6, c.kind === 'tridown'); g.fillStyle = c.color; g.fill();
      }
    } else {
      const L = leiptrLegend[key];
      label = L.label;
      g.fillStyle = L.fill; g.strokeStyle = '#000'; g.lineWidth = 1.3;
      g.fillRect(3.5, 3.5, 13, 13); g.strokeRect(3.5, 3.5, 13, 13);
      g.beginPath(); g.arc(10, 10, 5, 0, Math.PI * 2); g.fill(); g.stroke();
    }
    legendEl.appendChild(mk);
    const t = document.createElement('div');
    t.className = 'lg-text';
    t.textContent = label;
    t.style.left = (legendTextX[ci] - 9) + 'px';
    t.style.top = (legendRowY[ri] - 10 - 796) + 'px';
    legendEl.appendChild(t);
  });
});
</script>
</body>
</html>
